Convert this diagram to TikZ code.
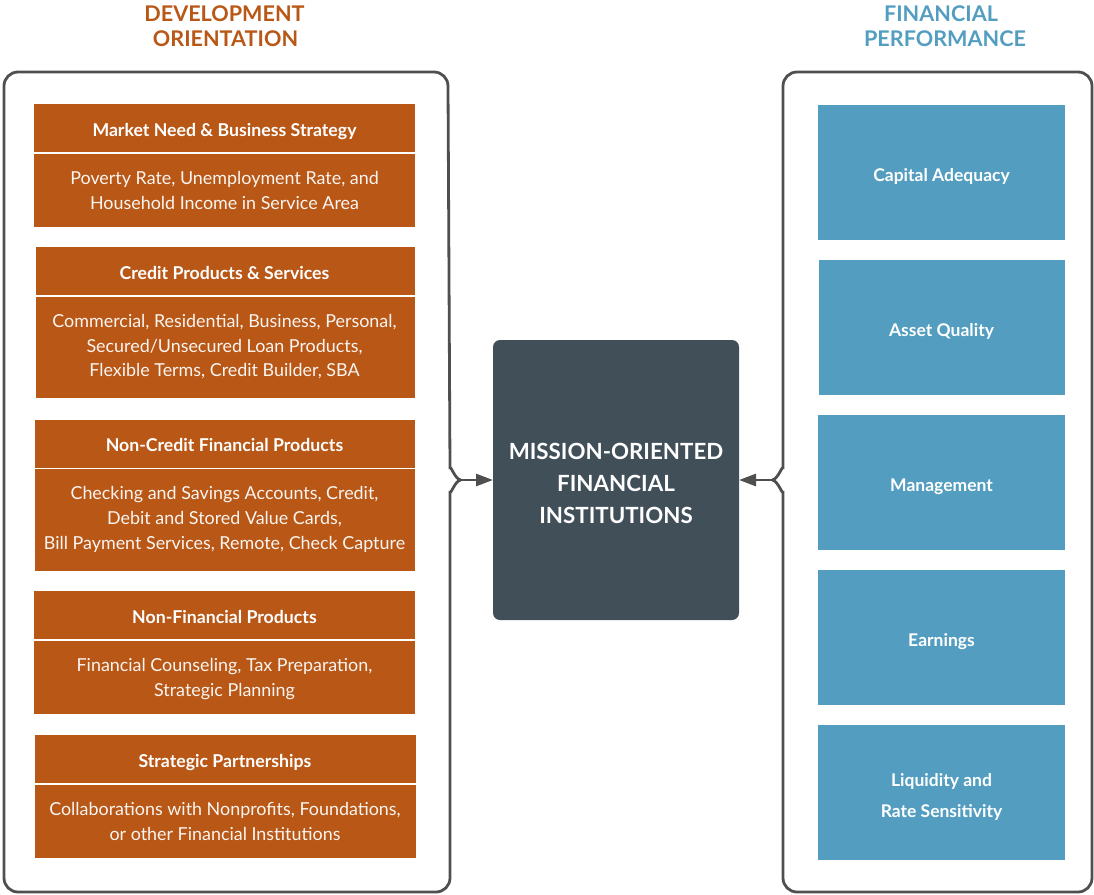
\documentclass[tikz,border=0pt]{standalone}
\usepackage{fontspec}
\setmainfont{Lato}
\usetikzlibrary{arrows.meta}

\definecolor{rust}{HTML}{B85716}
\definecolor{steelblue}{HTML}{539EC0}
\definecolor{slate}{HTML}{414F59}
\definecolor{framegray}{HTML}{4F4F4F}

\begin{document}
\begin{tikzpicture}[x=1pt,y=-1pt,
  panel/.style={draw=none,inner sep=0pt,outer sep=0pt,anchor=north west},
  hdrbox/.style={panel,fill=rust},
  bodybox/.style={panel,fill=rust},
  metricbox/.style={panel,fill=steelblue},
  hdrtxt/.style={anchor=base,inner sep=0pt,text=white,font=\bfseries\fontsize{17.7}{20}\selectfont},
  bodytxt/.style={anchor=base,inner sep=0pt,text=white!94!rust,font=\fontsize{17.9}{20}\selectfont},
  metrictxt/.style={anchor=base,inner sep=0pt,text=white,font=\bfseries\fontsize{17.5}{20}\selectfont},
  coretxt/.style={anchor=base,inner sep=0pt,text=white,font=\bfseries\fontsize{22.3}{25}\selectfont},
  titletxt/.style={anchor=base,inner sep=0pt,font=\bfseries\fontsize{21.6}{25}\selectfont},
  bracket/.style={draw=framegray,line width=2.8pt},
  feed/.style={draw=framegray,line width=2.8pt,-{Triangle[length=17pt,width=12pt]}}
]
\useasboundingbox (0,0) rectangle (1094,894);

% ---- column titles
\node[titletxt,text=rust] (tl1) at (224.5,21.7) {DEVELOPMENT};
\node[titletxt,text=rust] (tl2) at (225.5,46.7) {ORIENTATION};
\node[titletxt,text=steelblue] (tr1) at (941,21.7) {FINANCIAL};
\node[titletxt,text=steelblue] (tr2) at (945,46.7) {PERFORMANCE};

% ---- left frame with inward notch
\coordinate (lnotch) at (461,480);
\draw[bracket] (lnotch) to[out=180,in=-90] (450,491) -- (450,878)
  arc[start angle=0,end angle=90,radius=14] -- (18,892)
  arc[start angle=90,end angle=180,radius=14] -- (4,86)
  arc[start angle=180,end angle=270,radius=14] -- (434,72)
  arc[start angle=270,end angle=360,radius=14] -- (450,469)
  to[out=90,in=180] (lnotch);

% ---- right frame with inward notch
\coordinate (rnotch) at (772,480);
\draw[bracket] (rnotch) to[out=0,in=-90] (783,491) -- (783,878)
  arc[start angle=180,end angle=90,radius=14] -- (1078,892)
  arc[start angle=90,end angle=0,radius=14] -- (1092,86)
  arc[start angle=0,end angle=-90,radius=14] -- (797,72)
  arc[start angle=270,end angle=180,radius=14] -- (783,469)
  to[out=90,in=0] (rnotch);

% ---- central node
\node[panel,fill=slate,rounded corners=7pt,minimum width=246pt,minimum height=280pt] (core) at (493,340) {};
\node[coretxt] (c1) at (616,459) {MISSION-ORIENTED};
\node[coretxt] (c2) at (616,491) {FINANCIAL};
\node[coretxt] (c3) at (616,523) {INSTITUTIONS};

\draw[feed] (lnotch) -- (core.west);
\draw[feed] (rnotch) -- (core.east);

% ---- development orientation cards
\node[hdrbox,minimum width=381pt,minimum height=48pt] (h1) at (34,104) {};
\node[bodybox,minimum width=381pt,minimum height=73pt] (b1) at (34,154) {};
\node[hdrtxt] (h1t) at (224.5,136.5) {Market Need \& Business Strategy};
\node[bodytxt] (b1a) at (224.5,184) {Poverty Rate, Unemployment Rate, and};
\node[bodytxt] (b1b) at (224.5,209) {Household Income in Service Area};

\node[hdrbox,minimum width=379pt,minimum height=48pt] (h2) at (35.5,247) {};
\node[bodybox,minimum width=379pt,minimum height=101pt] (b2) at (35.5,297) {};
\node[hdrtxt] (h2t) at (224.5,279.5) {Credit Products \& Services};
\node[bodytxt] (b2a) at (224.5,327) {Commercial, Residential, Business, Personal,};
\node[bodytxt] (b2b) at (224.5,352) {Secured/Unsecured Loan Products,};
\node[bodytxt] (b2c) at (224.5,376.5) {Flexible Terms, Credit Builder, SBA};

\node[hdrbox,minimum width=380pt,minimum height=48pt] (h3) at (34.5,420) {};
\node[bodybox,minimum width=380pt,minimum height=102pt] (b3) at (34.5,469) {};
\node[hdrtxt] (h3t) at (224.5,451.5) {Non-Credit Financial Products};
\node[bodytxt] (b3a) at (224.5,499.3) {Checking and Savings Accounts, Credit,};
\node[bodytxt] (b3b) at (224.5,524.3) {Debit and Stored Value Cards,};
\node[bodytxt] (b3c) at (224.5,549.3) {Bill Payment Services, Remote, Check Capture};

\node[hdrbox,minimum width=381pt,minimum height=48pt] (h4) at (34,591) {};
\node[bodybox,minimum width=381pt,minimum height=73pt] (b4) at (34,641) {};
\node[hdrtxt] (h4t) at (224.5,623.5) {Non-Financial Products};
\node[bodytxt] (b4a) at (224.5,671) {Financial Counseling, Tax Preparation,};
\node[bodytxt] (b4b) at (224.5,696) {Strategic Planning};

\node[hdrbox,minimum width=381pt,minimum height=48pt] (h5) at (35,735) {};
\node[bodybox,minimum width=381pt,minimum height=73pt] (b5) at (35,785) {};
\node[hdrtxt] (h5t) at (225,767.5) {Strategic Partnerships};
\node[bodytxt] (b5a) at (225,815) {Collaborations with Nonprofits, Foundations,};
\node[bodytxt] (b5b) at (225,840) {or other Financial Institutions};

% ---- financial performance metrics
\node[metricbox,minimum width=247pt,minimum height=135pt] (m1) at (818,105) {};
\node[metrictxt] (m1t) at (941.5,181) {Capital Adequacy};
\node[metricbox,minimum width=246pt,minimum height=135pt] (m2) at (819,260) {};
\node[metrictxt] (m2t) at (941.5,336) {Asset Quality};
\node[metricbox,minimum width=247pt,minimum height=135pt] (m3) at (818,415) {};
\node[metrictxt] (m3t) at (941.5,491) {Management};
\node[metricbox,minimum width=247pt,minimum height=135pt] (m4) at (818,570) {};
\node[metrictxt] (m4t) at (941.5,646) {Earnings};
\node[metricbox,minimum width=247pt,minimum height=134.5pt] (m5) at (818,725) {};
\node[metrictxt] (m5a) at (941.5,786) {Liquidity and};
\node[metrictxt] (m5b) at (941.5,817) {Rate Sensitivity};
\end{tikzpicture}
\end{document}
